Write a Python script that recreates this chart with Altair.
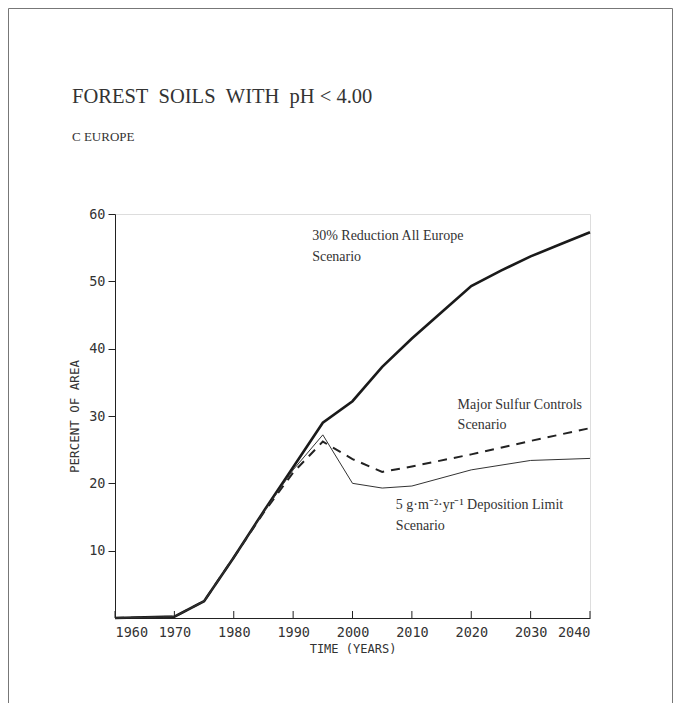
import altair as alt
import pandas as pd

# --- data ---
years_main = [1960, 1970, 1975, 1980, 1985, 1990, 1995, 2000, 2005, 2010, 2015, 2020, 2025, 2030, 2035, 2040]
vals_main = [0, 0.2, 2.5, 9, 15.8, 22.4, 29, 32.2, 37.3, 41.5, 45.4, 49.3, 51.6, 53.7, 55.5, 57.3]

years_sulfur = [1960, 1970, 1975, 1980, 1985, 1990, 1995, 2000, 2005, 2010, 2020, 2030, 2040]
vals_sulfur = [0, 0.2, 2.5, 9, 15.6, 21.6, 26.2, 23.6, 21.7, 22.5, 24.3, 26.3, 28.2]

years_depo = [1960, 1970, 1975, 1980, 1985, 1990, 1995, 2000, 2005, 2010, 2020, 2030, 2040]
vals_depo = [0, 0.2, 2.5, 9, 15.7, 22.0, 27.2, 20.0, 19.3, 19.6, 22.0, 23.4, 23.7]

x_ticks = [1960, 1970, 1980, 1990, 2000, 2010, 2020, 2030, 2040]
y_ticks = [10, 20, 30, 40, 50, 60]

title_text = "FOREST\u2002SOILS\u2002WITH\u2002pH < 4.00"
subtitle_text = "C EUROPE"

W, H = 475, 404
PAD = {"left": 107, "top": 206, "right": 83, "bottom": 85}

xs = alt.Scale(domain=[1960, 2040], nice=False, zero=False)
ys = alt.Scale(domain=[0, 60], nice=False)

df_main = pd.DataFrame({"year": years_main, "value": vals_main})
df_sulfur = pd.DataFrame({"year": years_sulfur, "value": vals_sulfur})
df_depo = pd.DataFrame({"year": years_depo, "value": vals_depo})
df_ticks = pd.DataFrame({"year": x_ticks})
one = df_ticks.head(1)

AXIS_FONT = "DejaVu Sans Mono"
SERIF = "Liberation Serif"

x_enc = alt.X("year:Q", scale=xs, axis=alt.Axis(
    values=x_ticks, format="d", ticks=False, grid=False, labelPadding=7,
    labelFont=AXIS_FONT, labelFontSize=13.5, labelColor="#333",
    domainColor="#222", domainWidth=1,
    title="TIME (YEARS)", titleFont=AXIS_FONT, titleFontSize=12,
    titleFontWeight="normal", titleColor="#333", titlePadding=5))
y_enc = alt.Y("value:Q", scale=ys, axis=alt.Axis(
    values=y_ticks, grid=False, tickSize=7, tickColor="#222", labelPadding=3,
    labelFont=AXIS_FONT, labelFontSize=13.5, labelColor="#333",
    domainColor="#222", domainWidth=1,
    title="PERCENT OF AREA", titleFont=AXIS_FONT, titleFontSize=12.5,
    titleFontWeight="normal", titleColor="#333", titlePadding=7))

main = alt.Chart(df_main).mark_line(color="#1a1a1a", strokeWidth=2.6).encode(x=x_enc, y=y_enc)
sulfur = alt.Chart(df_sulfur).mark_line(color="#222", strokeWidth=2, strokeDash=[9, 7]).encode(
    x=alt.X("year:Q", scale=xs), y=alt.Y("value:Q", scale=ys))
depo = alt.Chart(df_depo).mark_line(color="#333", strokeWidth=1).encode(
    x=alt.X("year:Q", scale=xs), y=alt.Y("value:Q", scale=ys))

ticks = alt.Chart(df_ticks).mark_rule(color="#222", strokeWidth=1).encode(
    x=alt.X("year:Q", scale=xs), y=alt.value(H), y2=alt.value(H - 7))

ann = pd.DataFrame({
    "year": [1993.2, 1993.2, 2017.7, 2017.7, 2007.3, 2007.3],
    "value": [56.7, 53.6, 31.6, 28.7, 16.8, 13.6],
    "label": ["30% Reduction All Europe", "Scenario",
              "Major Sulfur Controls", "Scenario",
              "5 g·m⁻²·yr⁻¹ Deposition Limit", "Scenario"],
})
texts = alt.Chart(ann).mark_text(align="left", baseline="middle", font=SERIF,
                                 fontSize=14, color="#333").encode(
    x=alt.X("year:Q", scale=xs), y=alt.Y("value:Q", scale=ys), text="label:N")

title = alt.Chart(one).mark_text(align="left", baseline="middle", font=SERIF,
                                 fontSize=20.5, color="#333").encode(
    x=alt.value(-43), y=alt.value(-117), text=alt.value(title_text))
subtitle = alt.Chart(one).mark_text(align="left", baseline="middle", font=SERIF,
                                    fontSize=13, color="#333").encode(
    x=alt.value(-43), y=alt.value(-77), text=alt.value(subtitle_text))

# outer frame of the figure
frame_l = alt.Chart(one).mark_rule(color="#777", strokeWidth=1).encode(
    x=alt.value(-PAD["left"] + 0.5), y=alt.value(-PAD["top"] + 0.5), y2=alt.value(H + PAD["bottom"]))
frame_r = alt.Chart(one).mark_rule(color="#777", strokeWidth=1).encode(
    x=alt.value(W + PAD["right"] - 0.5), y=alt.value(-PAD["top"] + 0.5), y2=alt.value(H + PAD["bottom"]))
frame_t = alt.Chart(one).mark_rule(color="#777", strokeWidth=1).encode(
    x=alt.value(-PAD["left"] + 0.5), x2=alt.value(W + PAD["right"] - 0.5), y=alt.value(-PAD["top"] + 0.5))

chart = alt.layer(main, sulfur, depo, ticks, texts, title, subtitle,
                  frame_l, frame_r, frame_t).properties(
    width=W, height=H,
    padding=PAD,
    autosize=alt.AutoSizeParams(type="none"),
).configure_view(stroke=None).configure(background="white")

chart.save("out.html", embed_options={"renderer": "svg", "actions": False})
